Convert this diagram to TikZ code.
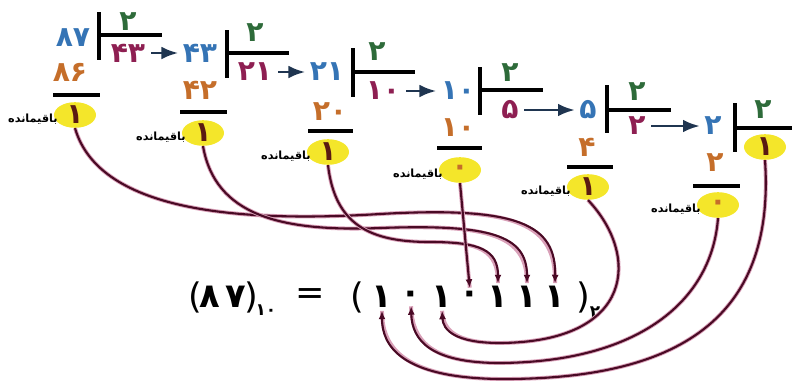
\documentclass[tikz,border=0pt]{standalone}
\usepackage{fontspec}
\newfontfamily\fa[Script=Arabic]{DejaVu Sans}
\newfontfamily\lat{DejaVu Sans}
\TeXXeTstate=1
\usepackage{tikz}
\usetikzlibrary{arrows.meta,shapes.geometric}
\usepackage{xcolor}
\definecolor{DivBlue}{HTML}{3574B5}
\definecolor{DivGreen}{HTML}{2E6B3A}
\definecolor{QuoRed}{HTML}{8E1F52}
\definecolor{ProdOrange}{HTML}{C56E2A}
\definecolor{RemYellow}{HTML}{F4E62A}
\definecolor{RemBrown}{HTML}{5A1A12}
\definecolor{LinkMaroon}{HTML}{4A0A25}
\definecolor{LinkPink}{HTML}{D9A0B8}
\definecolor{StepNavy}{HTML}{1F3550}
\newcommand{\baghi}{\beginR باقیمانده\endR}

\begin{document}
\begin{tikzpicture}[x=0.025cm,y=-0.025cm,>=Latex,
  num/.style={inner sep=0pt,font=\fa\bfseries\fontsize{20}{20}\selectfont},
  dvd/.style={num,text=DivBlue},
  dsr/.style={num,text=DivGreen},
  quo/.style={num,text=QuoRed},
  prd/.style={num,text=ProdOrange},
  rem/.style={num,ellipse,fill=RemYellow,text=RemBrown,minimum width=1.05cm,minimum height=0.64cm},
  zero/.style={text=ProdOrange},
  lbl/.style={inner sep=0pt,anchor=east,xshift=3pt,yshift=-3pt,font=\fa\bfseries\fontsize{8}{8}\selectfont},
  bar/.style={line width=3.4pt},
  rule/.style={line width=2.8pt},
  stepar/.style={->,draw=StepNavy,line width=2pt,shorten <=4pt,shorten >=3pt},
  link/.style={-{Latex[length=6pt,width=5pt]},draw=LinkMaroon,line width=1.5pt,
    preaction={draw=LinkPink,line width=2.8pt,-}},
  eq/.style={inner sep=0pt,font=\fa\bfseries\fontsize{24}{24}\selectfont},
  par/.style={inner sep=0pt,font=\lat\fontsize{25}{25}\selectfont},
  sub/.style={inner sep=0pt,font=\fa\bfseries\fontsize{12}{12}\selectfont}]
\useasboundingbox (0,0) rectangle (792,383);

% stage 1
\node[dvd] (d1) at (73,38) {۸۷};
\node[dsr] (s1) at (128,22) {۲};
\node[quo] (q1) at (128,53) {۴۳};
\node[prd] (p1) at (70,72) {۸۶};
\node[rem] (r1) at (75,115) {۱};
\node[lbl] (l1) at (r1.west) {\baghi};
\draw[bar] (99,12) -- (99,60);
\draw[rule] (99,35) -- (162,35);
\draw[rule] (53,95) -- (100,95);

% stage 2
\node[dvd] (d2) at (200,53) {۴۳};
\node[dsr] (s2) at (255,33) {۲};
\node[quo] (q2) at (255,72) {۲۱};
\node[prd] (p2) at (200,90) {۴۲};
\node[rem] (r2) at (203,133) {۱};
\node[lbl] (l2) at (r2.west) {\baghi};
\draw[bar] (227,30) -- (227,78);
\draw[rule] (227,53) -- (289,53);
\draw[rule] (180,112) -- (227,112);

% stage 3
\node[dvd] (d3) at (327,72) {۲۱};
\node[dsr] (s3) at (377,52) {۲};
\node[quo] (q3) at (383,91) {۱۰};
\node[prd] (p3) at (330,112) {۲۰};
\node[rem] (r3) at (328,152) {۱};
\node[lbl] (l3) at (r3.west) {\baghi};
\draw[bar] (353,48) -- (353,97);
\draw[rule] (353,72) -- (415,72);
\draw[rule] (308,131) -- (353,131);

% stage 4
\node[dvd] (d4) at (458,91) {۱۰};
\node[dsr] (s4) at (510,73) {۲};
\node[quo] (q4) at (510,110) {۵};
\node[prd] (p4) at (458,128) {۱۰};
\node[rem,zero] (r4) at (460,170) {۰};
\node[lbl] (l4) at (r4.west) {\baghi};
\draw[bar] (480,67) -- (480,115);
\draw[rule] (480,90) -- (543,90);
\draw[rule] (437,148) -- (482,148);

% stage 5
\node[dvd] (d5) at (588,110) {۵};
\node[dsr] (s5) at (637,92) {۲};
\node[quo] (q5) at (637,126) {۲};
\node[prd] (p5) at (587,147) {۴};
\node[rem] (r5) at (588,187) {۱};
\node[lbl] (l5) at (r5.west) {\baghi};
\draw[bar] (607,85) -- (607,133);
\draw[rule] (607,110) -- (671,110);
\draw[rule] (567,167) -- (613,167);

% stage 6
\node[dvd] (d6) at (713,126) {۲};
\node[dsr] (s6) at (763,110) {۲};
\node[rem] (q6) at (765,147) {۱};
\node[prd] (p6) at (715,163) {۲};
\node[rem,zero] (r6) at (718,205) {۰};
\node[lbl] (l6) at (r6.west) {\baghi};
\draw[bar] (735,103) -- (735,152);
\draw[rule] (735,128) -- (792,128);
\draw[rule] (693,186) -- (740,186);

\draw[stepar] (q1) -- (d2);
\draw[stepar] (q2) -- (d3);
\draw[stepar] (q3) -- (d4);
\draw[stepar] (q4) -- (d5);
\draw[stepar] (q5) -- (d6);

% result
\node[par] (lpa) at (195,297) {(};
\node[eq] (dec) at (223,297) {۸\,۷};
\node[par] (rpa) at (251,297) {)};
\node[sub] (ten) at (266,310) {۱۰};
\node[par] (eqs) at (310,297) {=};
\node[par] (lpb) at (357,297) {(};
\node[eq] (b1) at (382,297) {۱};
\node[eq] (b2) at (411,297) {۰};
\node[eq] (b3) at (442,297) {۱};
\node[eq] (b4) at (470,297) {۰};
\node[eq] (b5) at (498,297) {۱};
\node[eq] (b6) at (527,297) {۱};
\node[eq] (b7) at (555,297) {۱};
\node[par] (rpb) at (583,297) {)};
\node[sub] (two) at (595,312) {۲};

% remainders to digits
\draw[link,shorten >=2pt] (r1.south) .. controls (100,215) and (250,222) .. (380,214) .. controls (520,206) and (556,225) .. (b7.north);
\draw[link,shorten >=2pt] (r2.south) .. controls (215,215) and (280,232) .. (380,228) .. controls (490,224) and (527,235) .. (b6.north);
\draw[link,shorten >=2pt] (r3.south) .. controls (335,225) and (370,242) .. (430,242) .. controls (480,242) and (498,250) .. (b5.north);
\draw[link,shorten >=2pt] (r4.south) -- (b4.north);
\draw[link,shorten >=2pt] (r5.south) .. controls (640,255) and (635,342) .. (500,343) .. controls (455,343) and (443,330) .. (b3.south);
\draw[link,shorten >=2pt] (r6.south) .. controls (712,300) and (640,362) .. (500,363) .. controls (430,363) and (412,340) .. (b2.south);
\draw[link,shorten >=2pt] (q6.south) .. controls (775,310) and (690,380) .. (500,379) .. controls (400,378) and (382,345) .. (b1.south);
\end{tikzpicture}
\end{document}
